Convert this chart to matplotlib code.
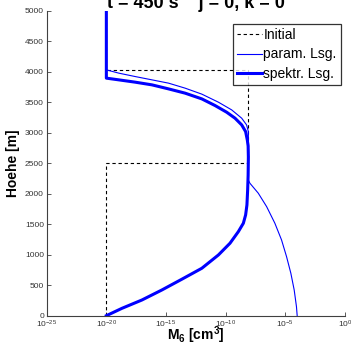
import numpy as np
import matplotlib.pyplot as plt
from matplotlib.ticker import NullLocator, FixedLocator

plt.rcParams['font.family'] = ['Liberation Sans', 'DejaVu Sans']
plt.rcParams['mathtext.fontset'] = 'custom'
plt.rcParams['mathtext.rm'] = 'Liberation Sans'
plt.rcParams['mathtext.bf'] = 'Liberation Sans:bold'

# Initial profile (log10 of M6, height)
init_exp = [-20, -20, -8.1, -8.1, -20, -20]
init_h = [0, 2500, 2500, 4030, 4030, 5000]

# parametric solution
param_exp = [-4.01, -4.07, -4.26, -4.54, -4.90, -5.32, -5.88, -6.57, -7.27, -7.97,
             -8.1, -8.1, -8.25, -8.66, -9.50, -10.61, -12.0, -13.40, -14.79,
             -16.18, -17.58, -18.96, -20.0, -20.0]
param_h = [0, 148, 421, 695, 967, 1241, 1515, 1787, 2007, 2170,
           2221, 3016, 3126, 3236, 3372, 3498, 3630, 3728, 3810,
           3864, 3918, 3974, 4028, 5000]

# spectral solution
spektr_exp = [-20.0, -18.69, -17.02, -15.35, -13.68, -12.0, -10.61, -9.64, -8.94,
              -8.52, -8.33, -8.22, -8.16, -8.12, -8.1, -8.12, -8.19, -8.33,
              -8.66, -9.22, -9.92, -10.89, -12.0, -13.40, -14.79, -16.18,
              -17.58, -18.96, -20.0, -20.0]
spektr_h = [0, 121, 257, 421, 597, 777, 995, 1187, 1377,
            1515, 1651, 1815, 2061, 2300, 2600, 2780, 2880, 3016,
            3126, 3236, 3334, 3443, 3552, 3646, 3716, 3782,
            3826, 3864, 3892, 5000]

fig = plt.figure(figsize=(3.51, 3.46), dpi=100)
ax = fig.add_axes([0.133, 0.0876, 0.85, 0.882])

ax.plot(10.0 ** np.array(init_exp), init_h, 'k--', lw=0.8, dashes=(3, 2.5), label='Initial')
ax.plot(10.0 ** np.array(param_exp), param_h, color='#0000ff', lw=0.8, label='param. Lsg.')
ax.plot(10.0 ** np.array(spektr_exp), spektr_h, color='#0000ff', lw=2.2, label='spektr. Lsg.')

ax.set_xscale('log')
ax.set_xlim(1e-25, 1e0)
ax.set_ylim(0, 5000)
ax.xaxis.set_major_locator(FixedLocator([1e-25, 1e-20, 1e-15, 1e-10, 1e-5, 1e0]))
ax.xaxis.set_minor_locator(NullLocator())
ax.set_yticks(np.arange(0, 5001, 500))

for side in ['top', 'right']:
    ax.spines[side].set_visible(False)
for side in ['left', 'bottom']:
    ax.spines[side].set_color('#404040')
    ax.spines[side].set_linewidth(0.8)
ax.tick_params(direction='in', length=3, width=0.6, labelsize=6, colors='#404040',
               labelcolor='#333333', pad=2)

ax.set_xlabel('M$_\\mathbf{6}$ [cm$^\\mathbf{3}$]', fontsize=10, fontweight='bold')
ax.xaxis.set_label_coords(0.5, -0.03)
ax.xaxis.label.set_va('top')
ax.set_ylabel('Hoehe [m]', fontsize=10, fontweight='bold')
ax.yaxis.set_label_coords(-0.088, 0.5)

leg = ax.legend(loc='upper right', bbox_to_anchor=(0.985, 0.955), fontsize=10,
                frameon=True, fancybox=False, edgecolor='black', handlelength=1.8,
                handletextpad=0.1, labelspacing=0.37, borderpad=0.29, borderaxespad=0)
leg.get_frame().set_linewidth(0.9)

fig.text(0.558, 1 - 8 / 346, 't = 450 s    j = 0, k = 0', ha='center', va='baseline',
         fontsize=13, fontweight='bold')

fig.savefig('out.png', dpi=100)
